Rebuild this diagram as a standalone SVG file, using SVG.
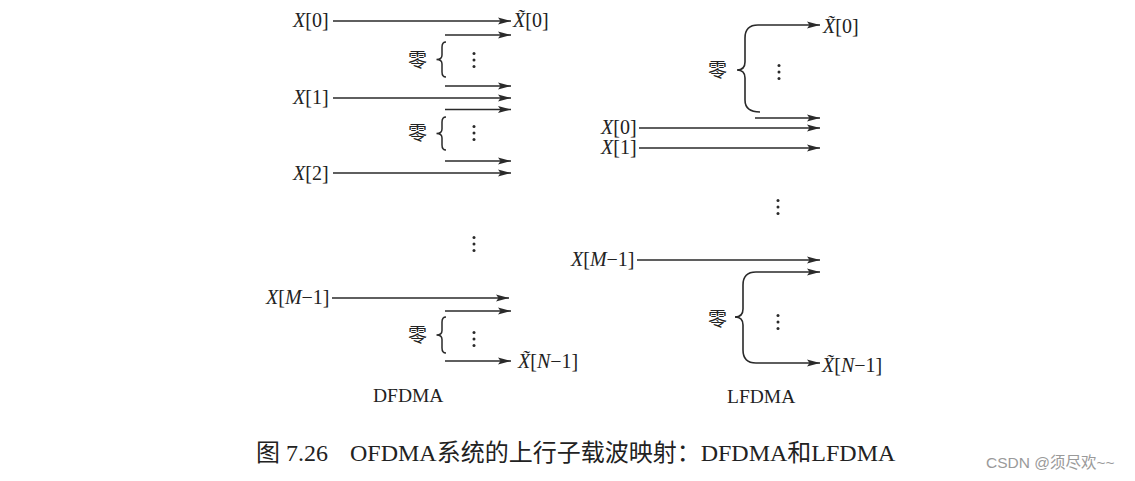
<svg xmlns="http://www.w3.org/2000/svg" width="1135" height="481" viewBox="0 0 1135 481">
<style>
.lbl{font-family:"Liberation Serif","Noto Sans CJK SC",serif;font-size:20px;fill:#222}
.it{font-style:italic}
.zh{font-family:"Noto Sans CJK SC",sans-serif;font-size:19px;fill:#222}
.cap{font-family:"Liberation Serif","Noto Sans CJK SC",serif;font-size:19.5px;fill:#222}
.title{font-family:"Liberation Serif","Noto Sans CJK SC",serif;font-size:24px;fill:#222}
.wm{font-family:"Liberation Sans","Noto Sans CJK SC",sans-serif;font-size:15.5px;fill:#9a9a9a}
.ar{fill:none;stroke:#2a2a2a;stroke-width:1.6;marker-end:url(#ah)}
.br{fill:none;stroke:#2a2a2a;stroke-width:1.5}
.dot{fill:#2a2a2a}
</style>
<defs>
<marker id="ah" markerUnits="userSpaceOnUse" markerWidth="14" markerHeight="10" refX="13" refY="4" orient="auto">
<path d="M0,0.5 L13,4 L0,7.5 L2.5,4 z" fill="#2a2a2a"/>
</marker>
<g id="dots3"><circle cx="0" cy="-6.5" r="1.5" class="dot"/><circle cx="0" cy="0" r="1.5" class="dot"/><circle cx="0" cy="6.5" r="1.5" class="dot"/></g>
</defs>
<rect width="1135" height="481" fill="#fff"/>

<g id="connectors">
<!-- DFDMA -->
<line class="ar" x1="333" y1="21" x2="511" y2="21"/>
<line class="ar" x1="445" y1="35" x2="511" y2="35"/>
<line class="ar" x1="445" y1="86" x2="511" y2="86"/>
<line class="ar" x1="333" y1="98" x2="511" y2="98"/>
<line class="ar" x1="445" y1="109.5" x2="511" y2="109.5"/>
<line class="ar" x1="445" y1="161" x2="511" y2="161"/>
<line class="ar" x1="333" y1="173" x2="511" y2="173"/>
<line class="ar" x1="332" y1="298" x2="509" y2="298"/>
<line class="ar" x1="445" y1="311" x2="511" y2="311"/>
<line class="ar" x1="445" y1="361" x2="511" y2="361"/>
<!-- LFDMA -->
<path class="ar" d="M760 112 Q745 112 745 100 L745 78 Q745 70 737 70 Q745 70 745 62 L745 38 Q745 25 758 25 L820 25"/>
<line class="ar" x1="755" y1="118" x2="820" y2="118"/>
<line class="ar" x1="639" y1="128" x2="820" y2="128"/>
<line class="ar" x1="639" y1="148" x2="820" y2="148"/>
<line class="ar" x1="637" y1="260" x2="820" y2="260"/>
<path class="ar" d="M735 317 Q743 317 743 309 L743 285 Q743 272 756 272 L820 272"/>
<path class="ar" d="M735 317 Q743 317 743 325 L743 350 Q743 363 756 363 L820 363"/>
</g>

<g id="dfdma">
<g id="d-x0"><text class="lbl" x="293" y="27"><tspan class="it">X</tspan>[0]</text></g>
<g id="d-xt0"><text class="lbl" x="513" y="27"><tspan class="it">X̃</tspan>[0]</text></g>
<g id="d-zero1">
<text class="zh" x="408" y="67">零</text>
<path class="br" d="M446 42 Q442 42 442 47 L442 55 Q442 59.5 436.5 59.5 Q442 59.5 442 64 L442 72 Q442 77 446 77"/>
<use href="#dots3" x="474" y="60"/>
</g>
<g id="d-x1"><text class="lbl" x="293" y="104"><tspan class="it">X</tspan>[1]</text></g>
<g id="d-zero2">
<text class="zh" x="408" y="140">零</text>
<path class="br" d="M446 117 Q442 117 442 122 L442 129 Q442 133.5 436.5 133.5 Q442 133.5 442 138 L442 145 Q442 150 446 150"/>
<use href="#dots3" x="474" y="133"/>
</g>
<g id="d-x2"><text class="lbl" x="293" y="180"><tspan class="it">X</tspan>[2]</text></g>
<g id="d-vdots"><use href="#dots3" x="474" y="244"/></g>
<g id="d-xm1"><text class="lbl" x="266" y="304"><tspan class="it">X</tspan>[<tspan class="it">M</tspan>−1]</text></g>
<g id="d-zero3">
<text class="zh" x="408" y="342">零</text>
<path class="br" d="M446 317 Q442 317 442 322 L442 330.5 Q442 335 436.5 335 Q442 335 442 339.5 L442 348 Q442 353 446 353"/>
<use href="#dots3" x="474" y="339"/>
</g>
<g id="d-xtn1"><text class="lbl" x="518" y="368"><tspan class="it">X̃</tspan>[<tspan class="it">N</tspan>−1]</text></g>
<g id="d-cap"><text class="cap" x="373" y="402">DFDMA</text></g>
</g>

<g id="lfdma">
<g id="l-xt0"><text class="lbl" x="823" y="33"><tspan class="it">X̃</tspan>[0]</text></g>
<g id="l-zero1">
<text class="zh" x="708" y="77">零</text>
<use href="#dots3" x="779" y="72"/>
</g>
<g id="l-x0"><text class="lbl" x="601" y="134"><tspan class="it">X</tspan>[0]</text></g>
<g id="l-x1"><text class="lbl" x="601" y="154"><tspan class="it">X</tspan>[1]</text></g>
<g id="l-vdots"><use href="#dots3" x="778" y="207"/></g>
<g id="l-xm1"><text class="lbl" x="571" y="266"><tspan class="it">X</tspan>[<tspan class="it">M</tspan>−1]</text></g>
<g id="l-zero2">
<text class="zh" x="708" y="326">零</text>
<use href="#dots3" x="778" y="322"/>
</g>
<g id="l-xtn1"><text class="lbl" x="822" y="372"><tspan class="it">X̃</tspan>[<tspan class="it">N</tspan>−1]</text></g>
<g id="l-cap"><text class="cap" x="727" y="403">LFDMA</text></g>
</g>

<g id="caption"><text class="title" y="461"><tspan x="256">图 7.26</tspan><tspan x="350">OFDMA系统的上行子载波映射：DFDMA和LFDMA</tspan></text></g>
<g id="watermark"><text class="wm" x="986" y="468">CSDN @须尽欢~~</text></g>
</svg>
